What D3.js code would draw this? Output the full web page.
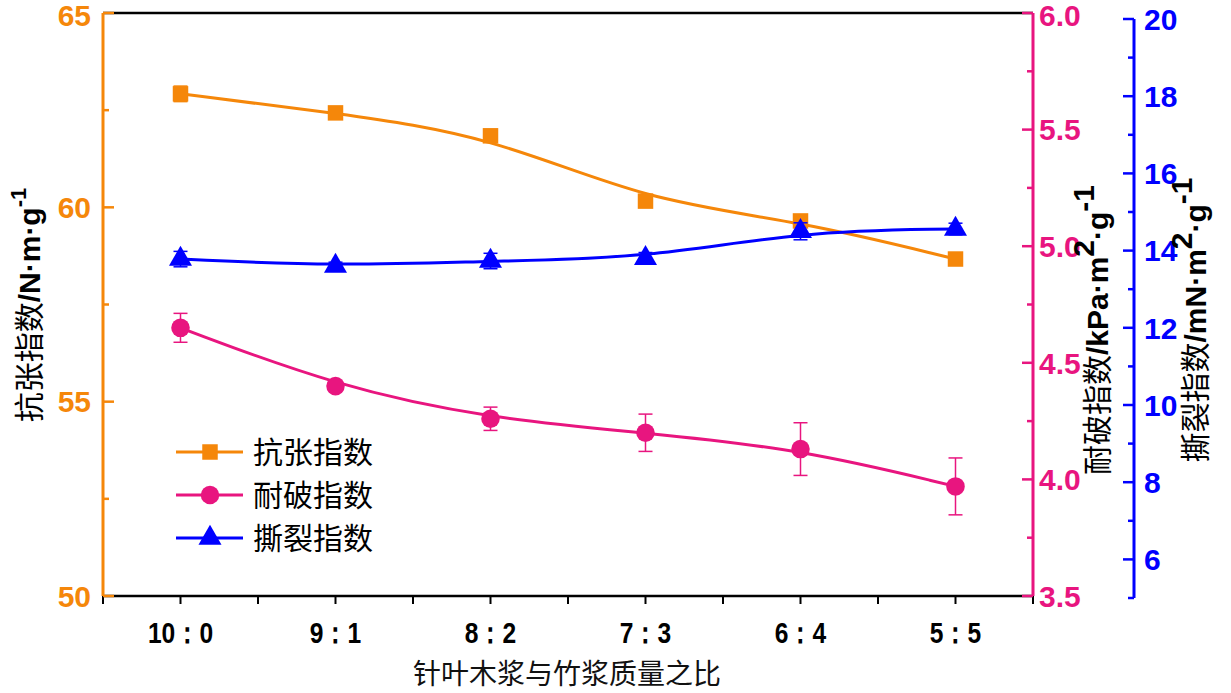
<!DOCTYPE html>
<html lang="zh">
<head>
<meta charset="UTF-8">
<title>纸张强度</title>
<script src="https://d3js.org/d3.v7.min.js"></script>
<style>
  body { margin: 0; background: #fff; }
  .num { font-family: "Liberation Sans", Arial, sans-serif; font-weight: bold; }
  .cjk { font-family: "Noto Sans CJK SC", sans-serif; font-weight: normal; }
</style>
</head>
<body>
<script>
// ---- data ----
const ratios = ['10：0', '9：1', '8：2', '7：3', '6：4', '5：5'];
const tensile = [62.92, 62.43, 61.84, 60.16, 59.65, 58.67];
const tensileErr = [0.2, 0.08, 0.16, 0.08, 0.15, 0.06];
const burst = [4.65, 4.40, 4.26, 4.20, 4.13, 3.97];
const burstErr = [0.062, 0.02, 0.05, 0.08, 0.113, 0.122];
const tear = [13.78, 13.6, 13.73, 13.8, 14.5, 14.56];
const tearErr = [0.2, 0.1, 0.2, 0.15, 0.22, 0.15];
const seriesNames = ['抗张指数', '耐破指数', '撕裂指数'];

const W = 1231, H = 693;
const L = 103, R = 1033, T = 13, B = 596;
const orange = '#f5870a', pink = '#e8157f', blue = '#0000ff';

const svg = d3.select('body').append('svg').attr('width', W).attr('height', H);

const x = d3.scalePoint().domain(ratios).range([L, R]).padding(0.5);
const yL = d3.scaleLinear().domain([50, 65]).range([B, T]);
const yP = d3.scaleLinear().domain([3.5, 6.0]).range([B, T]);
const yB = d3.scaleLinear().domain([5, 20]).range([598, 19]);

// top frame line
svg.append('line').attr('x1', L).attr('x2', R).attr('y1', T).attr('y2', T).attr('stroke', '#000').attr('stroke-width', 2.5);

// x axis
const gx = svg.append('g').attr('transform', `translate(0,${B})`);
gx.append('line').attr('x1', L).attr('x2', R).attr('stroke', '#000').attr('stroke-width', 2.5);
const step = x.step();
const xt = [L];
ratios.forEach(r => { xt.push(x(r)); xt.push(x(r) + step / 2); });
gx.selectAll('line.t').data(xt).enter().append('line').attr('class', 't')
  .attr('x1', d => d).attr('x2', d => d).attr('y1', 0).attr('y2', 8)
  .attr('stroke', '#000').attr('stroke-width', 2);
gx.selectAll('text').data(ratios).enter().append('text')
  .attr('transform', d => `translate(${x(d)},47) scale(0.82,1)`)
  .attr('text-anchor', 'middle')
  .style('font-family', '"Liberation Sans", Arial, sans-serif')
  .style('font-weight', 'bold').style('font-size', '30px').attr('fill', '#000')
  .text(d => d);
svg.append('text').attr('class', 'cjk').attr('x', 567).attr('y', 684)
  .attr('text-anchor', 'middle').style('font-size', '28px').attr('fill', '#111')
  .text('针叶木浆与竹浆质量之比');

// vertical axis helper, ticks point into the plot
function vAxis(scale, xPos, color, majors, minors, fmt, labelSide, labelX) {
  const g = svg.append('g');
  const [r0, r1] = scale.range();
  g.append('line').attr('x1', xPos).attr('x2', xPos).attr('y1', r0).attr('y2', r1)
    .attr('stroke', color).attr('stroke-width', 3);
  const dir = labelSide === 'left' ? 1 : -1;
  g.selectAll('line.maj').data(majors).enter().append('line').attr('class', 'maj')
    .attr('x1', xPos).attr('x2', xPos + dir * 11)
    .attr('y1', d => scale(d)).attr('y2', d => scale(d))
    .attr('stroke', color).attr('stroke-width', 2.5);
  g.selectAll('line.min').data(minors).enter().append('line').attr('class', 'min')
    .attr('x1', xPos).attr('x2', xPos + dir * 6)
    .attr('y1', d => scale(d)).attr('y2', d => scale(d))
    .attr('stroke', color).attr('stroke-width', 2.5);
  g.selectAll('text').data(majors).enter().append('text').attr('class', 'num')
    .attr('x', labelX).attr('y', d => Math.max(scale(d), 15)).attr('dy', '0.36em')
    .attr('text-anchor', labelSide === 'left' ? 'end' : 'start')
    .style('font-size', '30px').attr('fill', color).text(fmt);
}
vAxis(yL, L, orange, [50, 55, 60, 65], [52.5, 57.5, 62.5], d => d, 'left', 91);
vAxis(yP, R, pink, [3.5, 4.0, 4.5, 5.0, 5.5, 6.0], [3.75, 4.25, 4.75, 5.25, 5.75], d3.format('.1f'), 'right', 1039);
vAxis(yB, 1134, blue, [6, 8, 10, 12, 14, 16, 18, 20], [5, 7, 9, 11, 13, 15, 17, 19], d => d, 'right', 1144);

// axis titles
function axisTitle(cx, cy, cjk, parts) {
  const t = svg.append('text').attr('transform', `translate(${cx},${cy}) rotate(-90)`)
    .attr('text-anchor', 'middle').style('font-size', '30px').attr('fill', '#000');
  t.append('tspan').attr('class', 'cjk').text(cjk);
  parts.forEach(p => {
    const s = t.append('tspan').attr('class', 'num').text(p.text);
    if (p.dy) s.attr('dy', p.dy);
    if (p.size) s.style('font-size', p.size);
  });
}
axisTitle(40, 305, '抗张指数', [{ text: '/N·m·g' }, { text: '-1', dy: -14, size: '22px' }]);
axisTitle(1108, 330, '耐破指数', [{ text: '/kPa·m' }, { text: '2', dy: -14 }, { text: '·g', dy: 14 }, { text: '-1', dy: -14 }]);
axisTitle(1206, 320, '撕裂指数', [{ text: '/mN·m' }, { text: '2', dy: -14 }, { text: '·g', dy: 14 }, { text: '-1', dy: -14 }]);

// series
const series = [
  { vals: tensile, err: tensileErr, y: yL, color: orange, sym: d3.symbolSquare, size: 240 },
  { vals: burst, err: burstErr, y: yP, color: pink, sym: d3.symbolCircle, size: 270 },
  { vals: tear, err: tearErr, y: yB, color: blue, sym: d3.symbolTriangle, size: 230 }
];
const line = d3.line().curve(d3.curveBasis);
series.forEach(s => {
  const pts = ratios.map((r, i) => [x(r), s.y(s.vals[i])]);
  const g = svg.append('g');
  g.append('path').attr('d', line(pts)).attr('fill', 'none')
    .attr('stroke', s.color).attr('stroke-width', 3);
  ratios.forEach((r, i) => {
    const cx = x(r), y1 = s.y(s.vals[i] + s.err[i]), y2 = s.y(s.vals[i] - s.err[i]);
    g.append('line').attr('x1', cx).attr('x2', cx).attr('y1', y1).attr('y2', y2).attr('stroke', s.color).attr('stroke-width', 1.5);
    [y1, y2].forEach(yy => g.append('line').attr('x1', cx - 7).attr('x2', cx + 7).attr('y1', yy).attr('y2', yy).attr('stroke', s.color).attr('stroke-width', 1.5));
    g.append('path').attr('d', d3.symbol(s.sym, s.size)())
      .attr('transform', `translate(${cx},${s.y(s.vals[i])})`).attr('fill', s.color);
  });
});

// legend
const lg = svg.append('g');
series.forEach((s, i) => {
  const yy = 452 + i * 43;
  lg.append('line').attr('x1', 176).attr('x2', 243).attr('y1', yy).attr('y2', yy).attr('stroke', s.color).attr('stroke-width', 3);
  lg.append('path').attr('d', d3.symbol(s.sym, s.size)()).attr('transform', `translate(210,${yy})`).attr('fill', s.color);
  lg.append('text').attr('class', 'cjk').attr('x', 253).attr('y', yy).attr('dy', '0.36em')
    .style('font-size', '30px').attr('fill', '#000').text(seriesNames[i]);
});
</script>
</body>
</html>
